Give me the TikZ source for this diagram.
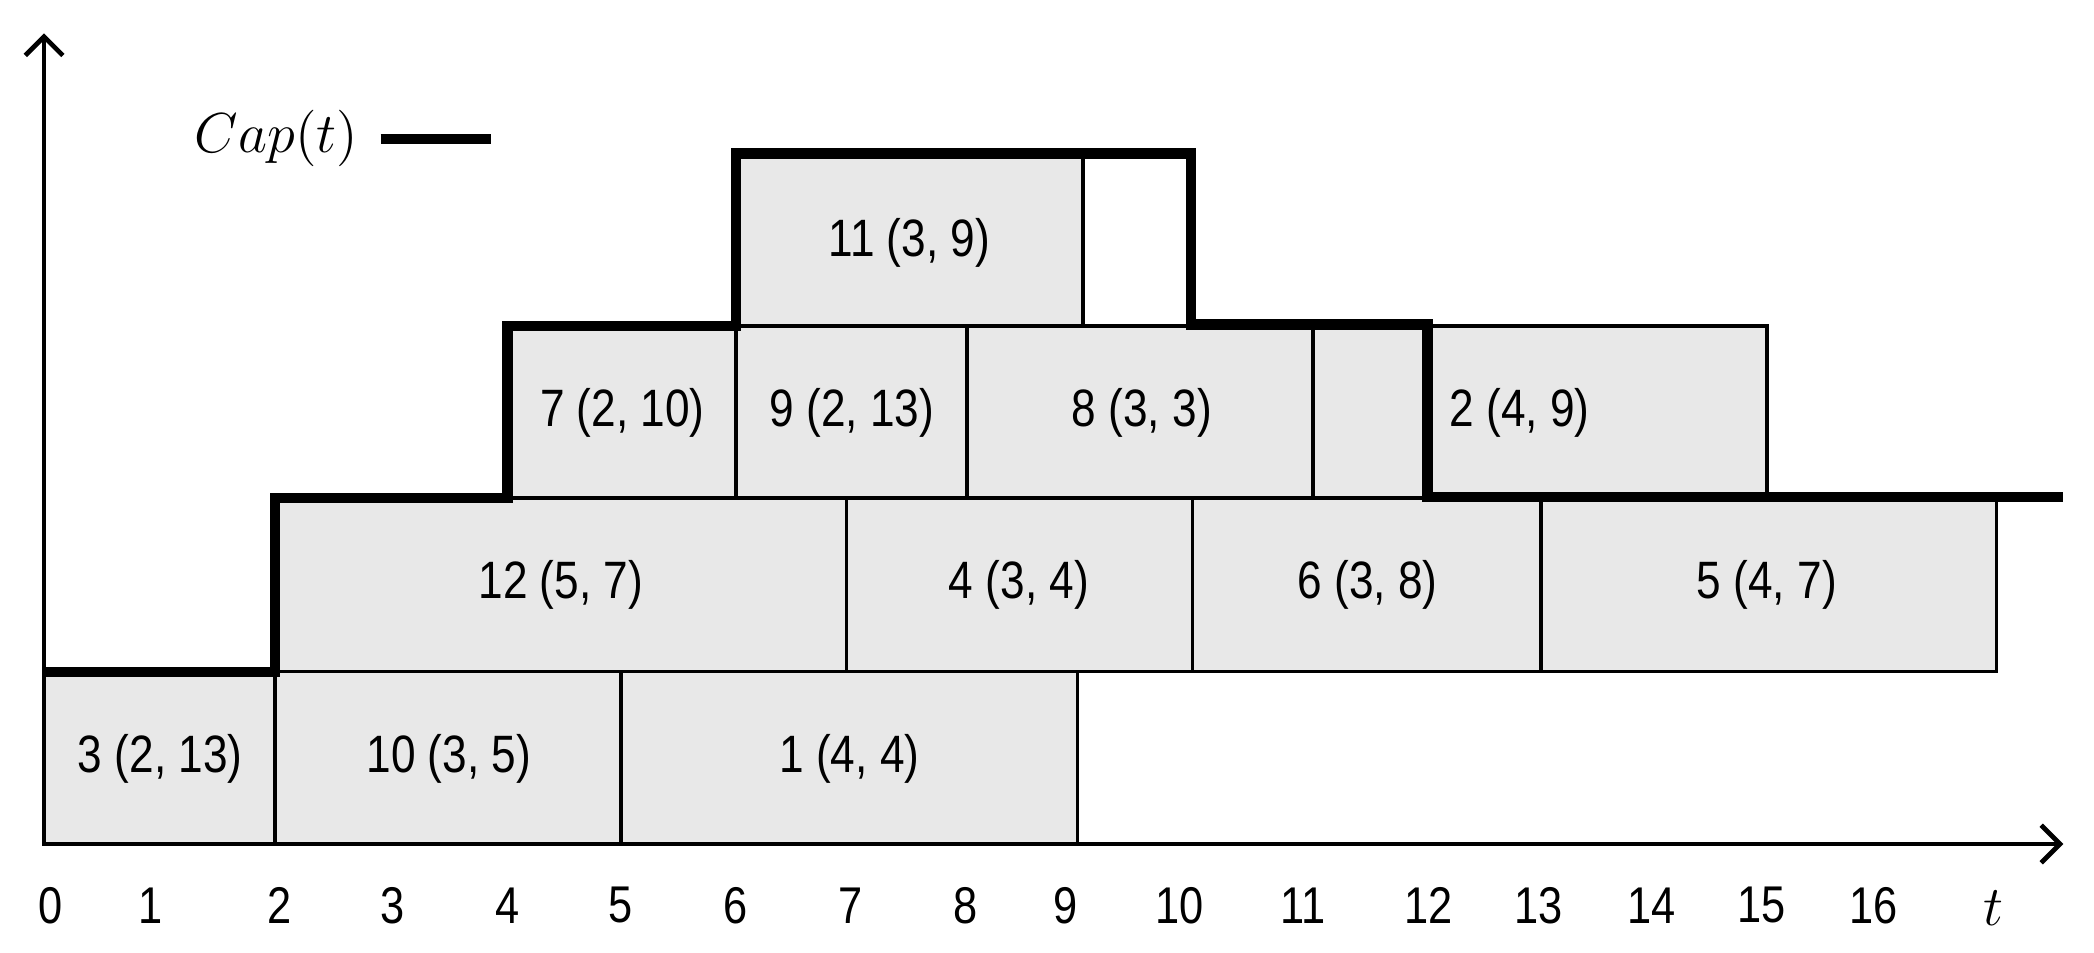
\documentclass[tikz,border=0pt]{standalone}
\usepackage{fontspec}
\newfontfamily\labfont[FakeStretch=0.84]{Liberation Sans}
\usetikzlibrary{arrows.meta}
\begin{document}
\begin{tikzpicture}[x=0.01cm,y=-0.01cm,
  box/.style={draw=black, line width=0.75pt, fill=black!9},
  lab/.style={font=\labfont\fontsize{11.2}{13}\selectfont, inner sep=0pt},
  tick/.style={font=\labfont\fontsize{11}{13}\selectfont, inner sep=0pt},
  capline/.style={line width=2.2pt, line join=miter},
  axis/.style={line width=1pt, -{Straight Barb[length=4pt,width=8pt,line width=1pt]}}]
\useasboundingbox (0,0) rectangle (1568,713);

% row 1
\path[box] (33,503) rectangle (206,632);
\path[box] (206,503) rectangle (465,632);
\path[box] (465,503) rectangle (807,632);
% row 2
\path[box] (206,373) rectangle (634,503);
\path[box] (634,373) rectangle (893,503);
\path[box] (893,373) rectangle (1154,503);
\path[box] (1154,373) rectangle (1495,503);
% row 3
\path[box] (380,244) rectangle (551,373);
\path[box] (551,244) rectangle (724,373);
\path[box] (724,244) rectangle (983,373);
\path[box] (983,244) rectangle (1069,373);
\path[box] (1069,244) rectangle (1323,373);
% row 4
\path[box] (551,115) rectangle (811,244);

% labels
\node[lab] (n3)  at (120,568) {3 (2, 13)};
\node[lab] (n10) at (336,568) {10 (3, 5)};
\node[lab] (n1)  at (636,568) {1 (4, 4)};
\node[lab] (n12) at (420,438) {12 (5, 7)};
\node[lab] (n4)  at (763,438) {4 (3, 4)};
\node[lab] (n6)  at (1024,438) {6 (3, 8)};
\node[lab] (n5)  at (1323,438) {5 (4, 7)};
\node[lab] (n7)  at (466,309) {7 (2, 10)};
\node[lab] (n9)  at (638,309) {9 (2, 13)};
\node[lab] (n8)  at (855,309) {8 (3, 3)};
\node[lab] (n2)  at (1138,309) {2 (4, 9)};
\node[lab] (n11) at (681,182) {11 (3, 9)};

% capacity profile
\draw[capline] (33,503) -- (206,503) -- (206,373) -- (380,373) -- (380,244)
  -- (551,244) -- (551,115) -- (892,115) -- (892,243) -- (1069,243)
  -- (1069,372) -- (1545,372);

% axes
\coordinate (o) at (33,632);
\coordinate (ytop) at (33,25);
\coordinate (xend) at (1545,632);
\draw[axis] (o) -- (ytop);
\draw[axis] (o) -- (xend);

% legend
\node[inner sep=0pt, font=\fontsize{13}{15}\selectfont] (capt) at (207,104) {$Cap(t)$};
\coordinate (lg1) at (285,104);
\coordinate (lg2) at (368,104);
\draw[line width=2pt] (lg1) -- (lg2);

% tick labels
\node[tick] (t0)  at (38,678) {0};
\node[tick] (t1)  at (113,678) {1};
\node[tick] (t2)  at (209,678) {2};
\node[tick] (t3)  at (294,678) {3};
\node[tick] (t4)  at (380,678) {4};
\node[tick] (t5)  at (465,678) {5};
\node[tick] (t6)  at (551,678) {6};
\node[tick] (t7)  at (637,678) {7};
\node[tick] (t8)  at (723,678) {8};
\node[tick] (t9)  at (798,678) {9};
\node[tick] (t10) at (883,678) {10};
\node[tick] (t11) at (976,678) {11};
\node[tick] (t12) at (1070,678) {12};
\node[tick] (t13) at (1152,678) {13};
\node[tick] (t14) at (1237,678) {14};
\node[tick] (t15) at (1319,678) {15};
\node[tick] (t16) at (1403,678) {16};
\node[inner sep=0pt, font=\fontsize{12}{14}\selectfont] (tt) at (1493,680) {$t$};
\end{tikzpicture}
\end{document}
